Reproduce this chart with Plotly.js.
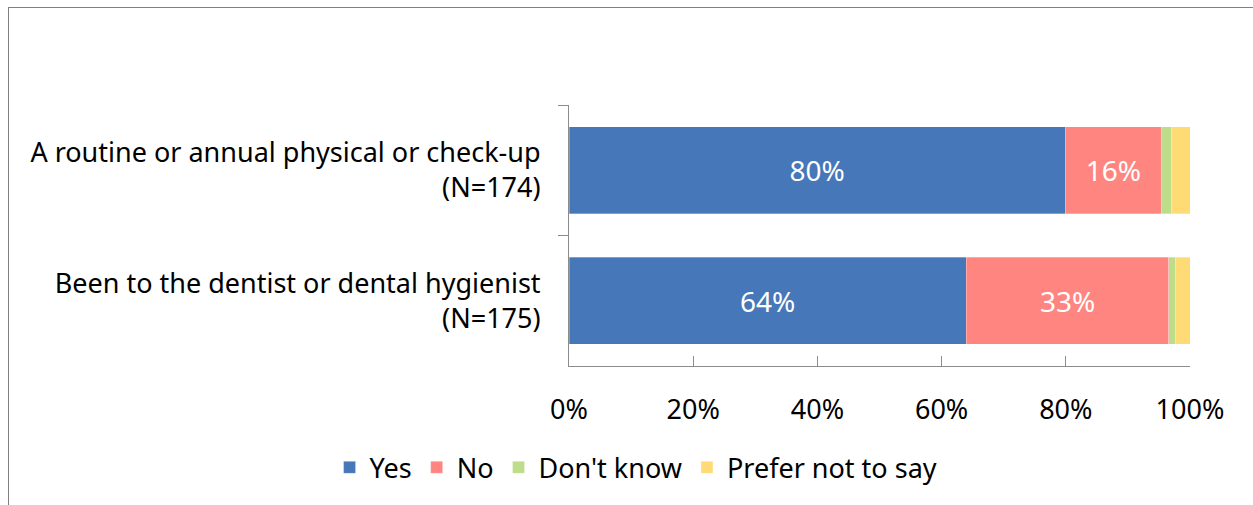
<!DOCTYPE html>
<html>
<head>
<meta charset="utf-8">
<script src="https://cdn.plot.ly/plotly-3.0.1.min.js"></script>
<style>
  html, body { margin: 0; padding: 0; background: #fff; overflow: hidden; }
  #frame { position: absolute; left: 8px; top: 7px; width: 1300px; height: 600px; border: 1px solid #7f7f7f; box-sizing: border-box; }
  #chart { position: absolute; left: 0; top: 0; width: 1253px; height: 505px; }
</style>
</head>
<body>
<div id="frame"></div>
<div id="chart"></div>
<script>
const categories = [
  "A routine or annual physical or check-up<br>(N=174)",
  "Been to the dentist or dental hygienist<br>(N=175)"
];
const seriesNames = ["Yes", "No", "Don't know", "Prefer not to say"];
const yesValues = [79.9, 64.0];
const noValues = [15.5, 32.6];
const dontKnowValues = [1.7, 1.1];
const preferValues = [2.9, 2.3];
const tickValues = [0, 20, 40, 60, 80, 100];
const tickLabels = ["0%", "20%", "40%", "60%", "80%", "100%"];

const colors = ["#4677B8", "#FF8580", "#BEDD8A", "#FFDB76"];
const allValues = [yesValues, noValues, dontKnowValues, preferValues];
const showText = [true, true, false, false];
const FONT = "'Noto Sans', 'Open Sans', sans-serif";

const traces = seriesNames.map((name, i) => ({
  type: "bar",
  orientation: "h",
  name: name,
  y: categories,
  x: allValues[i],
  marker: { color: colors[i], line: { color: "rgba(255,255,255,0.6)", width: 0.5 } },
  texttemplate: showText[i] ? "%{x:.0f}%" : "",
  textposition: showText[i] ? "inside" : "none",
  insidetextanchor: "middle",
  textfont: { color: "#ffffff", size: 28, family: FONT },
  hoverinfo: "skip"
}));

const layout = {
  width: 1253,
  height: 505,
  barmode: "stack",
  bargap: 0.33,
  paper_bgcolor: "rgba(0,0,0,0)",
  plot_bgcolor: "rgba(0,0,0,0)",
  margin: { l: 569, r: 63, t: 105, b: 139, pad: 0 },
  font: { family: FONT, size: 27, color: "#000" },
  xaxis: {
    range: [0, 100],
    tickvals: tickValues,
    ticktext: tickLabels,
    ticks: "inside",
    ticklen: 10,
    tickcolor: "#8c8c8c",
    showline: true,
    linecolor: "#8c8c8c",
    linewidth: 1,
    showgrid: false,
    zeroline: false,
    ticklabelstandoff: 20,
    tickfont: { size: 27, family: FONT, color: "#000" },
    fixedrange: true
  },
  yaxis: {
    type: "category",
    categoryorder: "array",
    categoryarray: categories,
    autorange: "reversed",
    tickson: "boundaries",
    ticks: "outside",
    ticklen: 10,
    tickcolor: "#8c8c8c",
    showline: true,
    linecolor: "#8c8c8c",
    linewidth: 1,
    showgrid: false,
    zeroline: false,
    ticklabelstandoff: 22,
    tickfont: { size: 27, family: FONT, color: "#000" },
    fixedrange: true
  },
  showlegend: true,
  legend: {
    orientation: "h",
    x: 0.108,
    xanchor: "center",
    y: -0.39,
    yanchor: "middle",
    yref: "paper",
    font: { size: 27, family: FONT, color: "#000" },
    itemwidth: 30,
    traceorder: "normal",
    bgcolor: "rgba(0,0,0,0)"
  }
};

Plotly.newPlot("chart", traces, layout, { displayModeBar: false, staticPlot: true });
</script>
</body>
</html>
